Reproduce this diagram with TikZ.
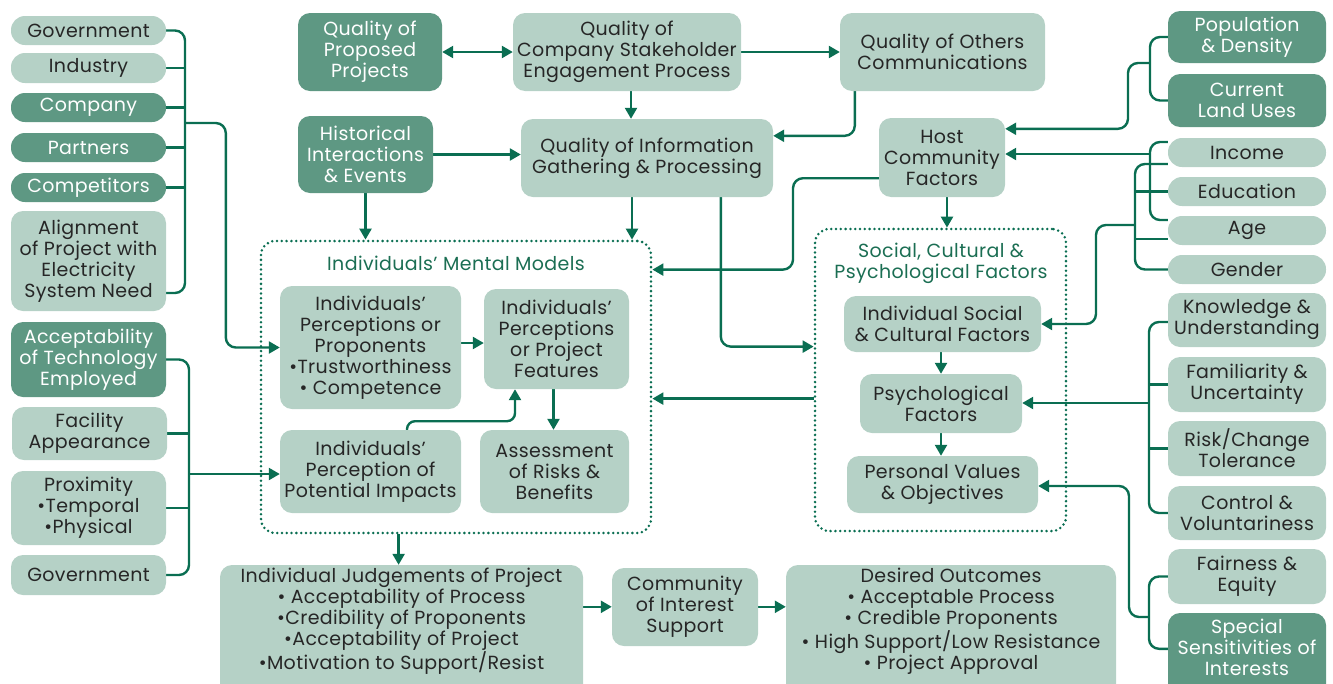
\documentclass[tikz,border=0pt]{standalone}
\usepackage{fontspec}
\setmainfont{Poppins}[LetterSpace=2]
\usetikzlibrary{arrows.meta,calc,backgrounds}
\definecolor{lightc}{HTML}{B5D1C6}
\definecolor{darkc}{HTML}{5E9883}
\definecolor{linec}{HTML}{0A6E52}
\definecolor{textc}{HTML}{262626}
\definecolor{titlec}{HTML}{1B6E53}
\newcommand\bxn[7]{\node[#1, minimum width={#5-#3}, minimum height={#6-#4}] (#2) at ({(#3+#5)/2},{(#4+#6)/2}) {#7};}
\tikzset{
  fnt/.style={font=\fontsize{19}{21}\selectfont},
  box/.style={rectangle, rounded corners=12pt, align=center, inner sep=0pt, fnt},
  lbox/.style={box, fill=lightc, text=textc},
  dbox/.style={box, fill=darkc, text=white},
  pill/.style={rounded corners=14pt},
  txt/.style={align=center, inner sep=0pt, fnt},
  dotbox/.style={rectangle, draw=linec, line width=2.8pt, dash pattern=on 0pt off 4.8pt, line cap=round, rounded corners=14pt, inner sep=0pt},
  conn/.style={draw=linec, line width=2.4pt, rounded corners=10pt},
  arr/.style={conn, -{Triangle[length=11pt,width=12pt]}},
  darr/.style={conn, {Triangle[length=11pt,width=12pt]}-{Triangle[length=11pt,width=12pt]}}
}
\begin{document}
\begin{tikzpicture}[x=1pt,y=-1pt]
\useasboundingbox (0,0) rectangle (1333,683);
% left column
\bxn{lbox,pill}{gova}{11}{16}{166}{45}{Government}
\bxn{lbox,pill}{ind}{11}{53}{166}{83}{Industry}
\bxn{dbox,pill}{comp}{11}{93}{166}{122}{Company}
\bxn{dbox,pill}{part}{11}{133}{166}{162}{Partners}
\bxn{dbox,pill}{compt}{11}{173}{166}{202}{Competitors}
\bxn{lbox}{align}{11}{211}{166}{311}{Alignment\\of Project with\\Electricity\\System Need}
\bxn{dbox}{accept}{11}{322}{166}{397}{Acceptability\\of Technology\\Employed}
\bxn{lbox}{facil}{12}{407}{167}{460}{Facility\\Appearance}
\bxn{lbox}{prox}{11}{471}{166}{545}{Proximity\\•Temporal\\•Physical}
\bxn{lbox}{govb}{11}{555}{166}{595}{Government}
% top
\bxn{dbox}{qpp}{298}{13}{442}{91}{Quality of\\Proposed\\Projects}
\bxn{lbox}{qcs}{513}{13}{741}{91}{Quality of\\Company Stakeholder\\Engagement Process}
\bxn{lbox}{qoc}{840}{13}{1045}{91}{Quality of Others\\Communications}
\bxn{dbox}{hist}{298}{116}{433}{193}{Historical\\Interactions\\\& Events}
\bxn{lbox}{qig}{521}{119}{773}{197}{Quality of Information\\Gathering \& Processing}
\bxn{lbox}{host}{879}{118}{1005}{197}{Host\\Community\\Factors}
% right column
\bxn{dbox}{pop}{1168}{11}{1326}{63}{Population\\\& Density}
\bxn{dbox}{land}{1168}{74}{1326}{127}{Current\\Land Uses}
\bxn{lbox,pill}{inc}{1168}{138}{1326}{167}{Income}
\bxn{lbox,pill}{edu}{1168}{177}{1326}{206}{Education}
\bxn{lbox,pill}{age}{1168}{216}{1326}{245}{Age}
\bxn{lbox,pill}{gen}{1168}{255}{1326}{284}{Gender}
\bxn{lbox}{know}{1168}{293}{1326}{347}{Knowledge \&\\Understanding}
\bxn{lbox}{fam}{1168}{357}{1326}{412}{Familiarity \&\\Uncertainty}
\bxn{lbox}{risk}{1168}{421}{1326}{476}{Risk/Change\\Tolerance}
\bxn{lbox}{ctrl}{1168}{486}{1326}{540}{Control \&\\Voluntariness}
\bxn{lbox}{fair}{1168}{549}{1326}{604}{Fairness \&\\Equity}
\bxn{dbox}{spec}{1168}{613}{1326}{700}{}
\node[txt, text=white] (spect) at (1247,647) {Special\\Sensitivities of\\Interests};
% mental models
\bxn{dotbox}{mm}{261}{241}{651}{533}{}
\node[txt, text=titlec] (mmt) at (456,263) {Individuals’ Mental Models};
\bxn{lbox}{prop}{280}{286}{461}{409}{Individuals’\\Perceptions or\\Proponents\\•Trustworthiness\\• Competence}
\bxn{lbox}{feat}{484}{289}{629}{389}{Individuals’\\Perceptions\\or Project\\Features}
\bxn{lbox}{imp}{280}{430}{461}{513}{Individuals’\\Perception of\\Potential Impacts}
\bxn{lbox}{assess}{480}{430}{629}{513}{Assessment\\of Risks \&\\Benefits}
% social cultural
\bxn{dotbox}{scp}{815}{229}{1066}{531}{}
\node[txt, text=titlec] (scpt) at (941,263) {Social, Cultural \&\\Psychological Factors};
\bxn{lbox}{isoc}{844}{296}{1041}{352}{Individual Social\\\& Cultural Factors}
\bxn{lbox}{psych}{860}{374}{1022}{433}{Psychological\\Factors}
\bxn{lbox}{pv}{847}{456}{1038}{513}{Personal Values\\\& Objectives}
% bottom
\bxn{lbox}{judg}{220}{565}{583}{700}{}
\node[txt, text=textc] (judgt) at (401.5,621) {Individual Judgements of Project\\• Acceptability of Process\\•Credibility of Proponents\\•Acceptability of Project\\•Motivation to Support/Resist};
\bxn{lbox}{comm}{612}{568}{758}{646}{Community\\of Interest\\Support}
\bxn{lbox}{des}{786}{565}{1116}{700}{}
\node[txt, text=textc] (dest) at (951,621) {Desired Outcomes\\• Acceptable Process\\• Credible Proponents\\• High Support/Low Resistance\\• Project Approval};
% junction coordinates
\coordinate (jLa) at (185,123);
\coordinate (jLb) at (189,474);
\coordinate (jRa) at (1150,63);
\coordinate (jRb) at (1150,154);
\coordinate (jRc) at (1135,225);
\coordinate (jRd) at (1149,403);
\coordinate (jRe) at (1149,617);
\coordinate (mmout) at ($(mm.south west)+(139,0)$);
\begin{scope}[on background layer]
% left top bracket
\draw[conn] (gova.east) -| (185,160) |- ($(align.east)+(0,32)$);
\draw[conn] (ind.east) -- ++(19,0);
\draw[conn] (comp.east) -- ++(19,0);
\draw[conn] (part.east) -- ++(19,0);
\draw[conn] (compt.east) -- ++(19,0);
\draw[arr] (jLa) -| ($(prop.west)+(-54,0)$) -- (prop.west);
% left bottom bracket
\draw[conn] (accept.east) -| (189,500) |- (govb.east);
\draw[conn] (facil.east) -- ++(22,0);
\draw[conn] (prox.east) -- ++(23,0);
\draw[arr] (jLb) -- (jLb -| imp.west);
% top
\draw[darr] (qpp.east) -- (qcs.west);
\draw[arr] (qcs.east) -- (qoc.west);
\draw[arr] ([xshift=4pt]qcs.south) -- ([xshift=4pt]qcs.south |- qig.north);
\draw[arr] (hist.east) -- (hist.east -| qig.west);
\draw[arr] (hist.south) -- (hist.south |- mm.north);
\draw[arr] ([xshift=-15pt]qig.south) -- ([xshift=-15pt]qig.south |- mm.north);
\draw[arr] ($(qoc.south west)+(15,0)$) |- ($(qig.north east)+(0,17)$);
\draw[arr] ($(qig.south west)+(200,0)$) |- ($(scp.north west)+(0,119)$);
\draw[arr] ($(host.south west)+(0,-19)$) -| (793,250) |- ($(mm.north east)+(0,30)$);
\draw[arr] ([xshift=5pt]host.south) -- ([xshift=5pt]host.south |- scp.north);
\draw[arr] ($(scp.north west)+(0,171)$) -- ($(mm.north east)+(0,159)$);
% right brackets
\draw[conn] (pop.west) -| (1150,70) |- (land.west);
\draw[arr] (jRa) -| (1128,100) |- ($(host.north east)+(0,11)$);
\draw[conn] ($(inc.west)+(0,-10.5)$) -| (1150,180) |- ($(age.west)+(0,-10.5)$);
\draw[arr] (jRb) -- ($(host.east)+(0,-3.5)$);
\draw[conn] ($(inc.west)+(0,11.5)$) -| (1135,200) |- (gen.west);
\draw[conn] (edu.west) -- ++(-33,0);
\draw[conn] ($(age.west)+(0,8.5)$) -- ++(-33,0);
\draw[arr] (jRc) -| (1096,300) |- (isoc.east);
\draw[conn] ($(know.west)+(0,2)$) -| (1149,450) |- (ctrl.west);
\draw[conn] (fam.west) -- ++(-19,0);
\draw[conn] (risk.west) -- ++(-19,0);
\draw[arr] (jRd) -- (jRd -| psych.east);
\draw[conn] (fair.west) -| (1149,600) |- ($(spec.north west)+(0,36)$);
\draw[arr] (jRe) -| (1129,550) |- ($(pv.east)+(0,1.5)$);
% inner
\draw[arr] (isoc.south -| psych.north) -- (psych.north);
\draw[arr] (psych.south) -- (psych.south |- pv.north);
\draw[arr] ($(prop.east)+(0,-4.5)$) -- ($(feat.west)+(0,4)$);
\draw[arr] ([xshift=-3pt]feat.south) -- ([xshift=-3pt]feat.south |- assess.north);
\draw[arr, rounded corners=8pt] ($(imp.north)+(36.5,0)$) |- ($(feat.south)+(-41.5,32)$) -- ($(feat.south)+(-41.5,0)$);
% bottom
\draw[arr] (mmout) -- (mmout |- judg.north);
\draw[arr] ($(judg.north east)+(0,42)$) -- ($(comm.north west)+(0,39)$);
\draw[arr] ($(comm.north east)+(0,39)$) -- ($(des.north west)+(0,42)$);
\end{scope}
\end{tikzpicture}
\end{document}
